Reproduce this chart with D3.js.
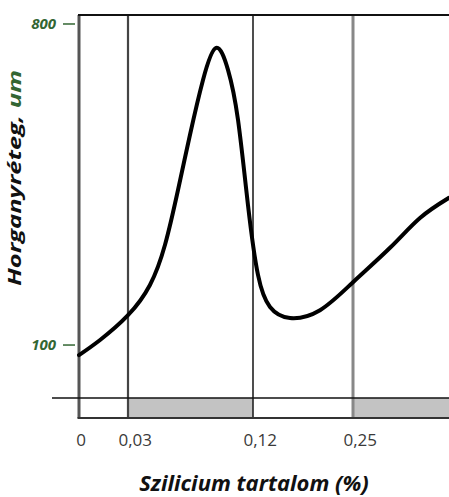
<!DOCTYPE html>
<html><head><meta charset="utf-8">
<script src="https://cdn.jsdelivr.net/npm/d3@7"></script>
<style>body{margin:0;background:#fff}svg{display:block}</style>
</head><body>
<svg id="c" width="449" height="497"></svg>
<script>
// Data
const siContent = [0, 0.0129, 0.03, 0.0458, 0.0566, 0.066, 0.0746, 0.084, 0.0934, 0.102, 0.1092, 0.1164, 0.1265, 0.1421, 0.1681, 0.2071, 0.25, 0.2982, 0.3372, 0.375];
const zincLayer = [78, 111, 165, 231, 318, 438, 558, 678, 748, 700, 591, 405, 253, 183, 159, 176, 237, 312, 377, 421];
const xTicks = [0, 0.03, 0.12, 0.25];
const xTickLabels = ["0", "0,03", "0,12", "0,25"];
const yTicks = [100, 800];
const shadedRanges = [[0.03, 0.12], [0.25, 0.375]];
const xTitle = "Szilicium tartalom (%)";
const yTitleMain = "Horganyréteg, ";
const yTitleUnit = "um";

const svg = d3.select("#c");
const pLeft = 79, pRight = 449, pTop = 15, pBase = 398, stripBottom = 418;

const x = d3.scaleLinear()
  .domain([0, 0.03, 0.12, 0.25, 0.375])
  .range([pLeft, 128, 253, 353, pRight]);
const y = d3.scaleLinear().domain([-15.5, 819.6]).range([pBase, pTop]);

const green = "#336633";

// shaded strip
svg.selectAll("rect.shade").data(shadedRanges).enter().append("rect")
  .attr("x", d => x(d[0])).attr("width", d => x(d[1]) - x(d[0]))
  .attr("y", pBase).attr("height", stripBottom - pBase)
  .attr("fill", "#c3c3c3");

// vertical lines
const vStyles = [
  {w: 3, c: "#555"}, {w: 2.2, c: "#444"}, {w: 1.6, c: "#222"}, {w: 3, c: "#888"}
];
svg.selectAll("line.v").data(xTicks).enter().append("line")
  .attr("x1", d => x(d)).attr("x2", d => x(d))
  .attr("y1", pTop).attr("y2", stripBottom)
  .attr("stroke", (d, i) => vStyles[i].c)
  .attr("stroke-width", (d, i) => vStyles[i].w);

// top border
svg.append("line").attr("x1", pLeft - 1).attr("x2", pRight).attr("y1", pTop).attr("y2", pTop)
  .attr("stroke", "#111").attr("stroke-width", 2);
// baseline
svg.append("line").attr("x1", 52).attr("x2", pRight).attr("y1", pBase).attr("y2", pBase)
  .attr("stroke", "#111").attr("stroke-width", 1.6);
// strip bottom
svg.append("line").attr("x1", pLeft - 1.5).attr("x2", pRight).attr("y1", stripBottom).attr("y2", stripBottom)
  .attr("stroke", "#333").attr("stroke-width", 2);

// y ticks
const yg = svg.selectAll("g.yt").data(yTicks).enter().append("g")
  .attr("transform", d => `translate(0,${y(d)})`);
yg.append("line").attr("x1", 63).attr("x2", 75).attr("stroke", green).attr("stroke-width", 1.5);
yg.append("text").attr("x", 56).attr("y", 5).attr("text-anchor", "end")
  .attr("font-family", "Open Sans").attr("font-weight", "bold").attr("font-style", "italic")
  .attr("font-size", 15).attr("fill", green).text(d => d);

// x tick labels (decimal comma sits at the line)
svg.selectAll("text.xt").data(xTicks).enter().append("text")
  .attr("x", (d, i) => xTickLabels[i].includes(",") ? x(d) - 9.5 : x(d) + 2)
  .attr("y", 446)
  .attr("text-anchor", (d, i) => xTickLabels[i].includes(",") ? "start" : "middle")
  .attr("font-family", "Open Sans").attr("font-size", 17).attr("fill", "#3a3a3a")
  .text((d, i) => xTickLabels[i]);

// curve
const line = d3.line().x((d, i) => x(siContent[i])).y(d => y(d)).curve(d3.curveNatural);
svg.append("path").datum(zincLayer).attr("d", line)
  .attr("fill", "none").attr("stroke", "#000").attr("stroke-width", 4)
  .attr("stroke-linejoin", "round").attr("stroke-linecap", "round");

// titles
svg.append("text").attr("x", 254).attr("y", 491).attr("text-anchor", "middle")
  .attr("font-family", "Open Sans").attr("font-weight", "bold").attr("font-style", "italic")
  .attr("font-size", 22).attr("fill", "#111").text(xTitle);

const yt = svg.append("text")
  .attr("transform", "translate(21,286) rotate(-90)")
  .attr("text-anchor", "start")
  .attr("textLength", 216).attr("lengthAdjust", "spacingAndGlyphs")
  .attr("font-family", "Open Sans").attr("font-weight", "bold").attr("font-style", "italic")
  .attr("font-size", 18).attr("fill", "#111");
yt.append("tspan").text(yTitleMain);
yt.append("tspan").attr("fill", green).text(yTitleUnit);
</script>
</body></html>
